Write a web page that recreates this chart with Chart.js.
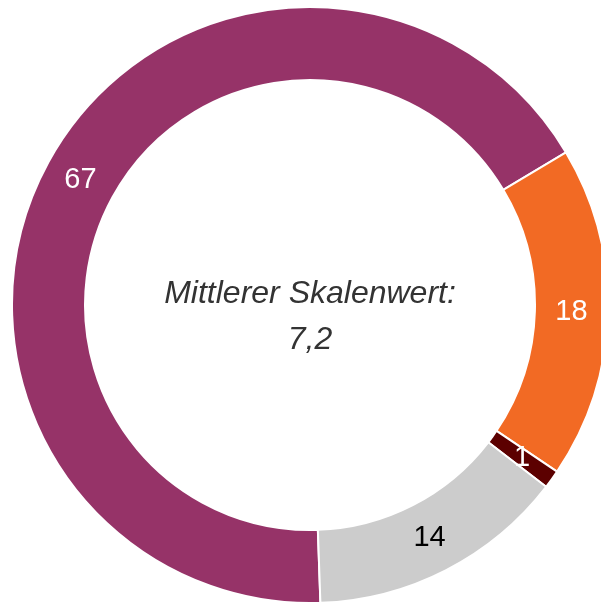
<!DOCTYPE html>
<html lang="de">
<head>
<meta charset="utf-8">
<title>Mittlerer Skalenwert</title>
<script src="https://cdn.jsdelivr.net/npm/chart.js@4/dist/chart.umd.min.js"></script>
<style>
  html, body { margin: 0; padding: 0; background: #ffffff; overflow: hidden; }
  body { width: 601px; height: 605px; position: relative; }
  #wrap { position: absolute; left: 11px; top: 6px; width: 598px; height: 598px; }
</style>
</head>
<body>
<div id="wrap"><canvas id="chart" width="598" height="598"></canvas></div>
<script>
// Antwortkategorien und Anteile in Prozent
const categories = ['Hoch', 'Mittel', 'Niedrig', 'Keine Angabe'];
const shares = [67, 18, 1, 14];
const sliceColors = ['#963368', '#F26A24', '#5C0000', '#CCCCCC'];
const labelColors = ['#ffffff', '#ffffff', '#ffffff', '#000000'];
const centerLines = ['Mittlerer Skalenwert:', '7,2'];

// Zahlen mittig auf jedes Ringsegment schreiben
const sliceLabels = {
  id: 'sliceLabels',
  afterDatasetsDraw(chart) {
    const ctx = chart.ctx;
    const meta = chart.getDatasetMeta(0);
    const values = chart.data.datasets[0].data;
    ctx.save();
    ctx.font = '29px "Liberation Sans", Arial, sans-serif';
    ctx.textAlign = 'center';
    ctx.textBaseline = 'middle';
    meta.data.forEach((arc, i) => {
      const p = arc.getProps(['x', 'y', 'startAngle', 'endAngle', 'innerRadius', 'outerRadius'], true);
      const a = (p.startAngle + p.endAngle) / 2;
      const r = (p.innerRadius + p.outerRadius) / 2;
      ctx.fillStyle = labelColors[i];
      ctx.fillText(String(values[i]), p.x + Math.cos(a) * r, p.y + Math.sin(a) * r);
    });
    ctx.restore();
  }
};

// Text in der Mitte des Rings
const centerText = {
  id: 'centerText',
  afterDraw(chart) {
    const ctx = chart.ctx;
    const arc = chart.getDatasetMeta(0).data[0];
    if (!arc) return;
    const cx = arc.x, cy = arc.y;
    ctx.save();
    ctx.font = 'italic 32px "Liberation Sans", Arial, sans-serif';
    ctx.fillStyle = '#333333';
    ctx.textAlign = 'center';
    ctx.textBaseline = 'alphabetic';
    ctx.fillText(centerLines[0], cx, cy - 2);
    ctx.fillText(centerLines[1], cx, cy + 44);
    ctx.restore();
  }
};

new Chart(document.getElementById('chart'), {
  type: 'doughnut',
  data: {
    labels: categories,
    datasets: [{
      data: shares,
      backgroundColor: sliceColors,
      borderColor: '#ffffff',
      borderWidth: 2
    }]
  },
  options: {
    responsive: false,
    animation: false,
    cutout: '75.5%',
    rotation: 178,
    layout: { padding: 0 },
    plugins: {
      legend: { display: false },
      tooltip: { enabled: false }
    }
  },
  plugins: [sliceLabels, centerText]
});
</script>
</body>
</html>
